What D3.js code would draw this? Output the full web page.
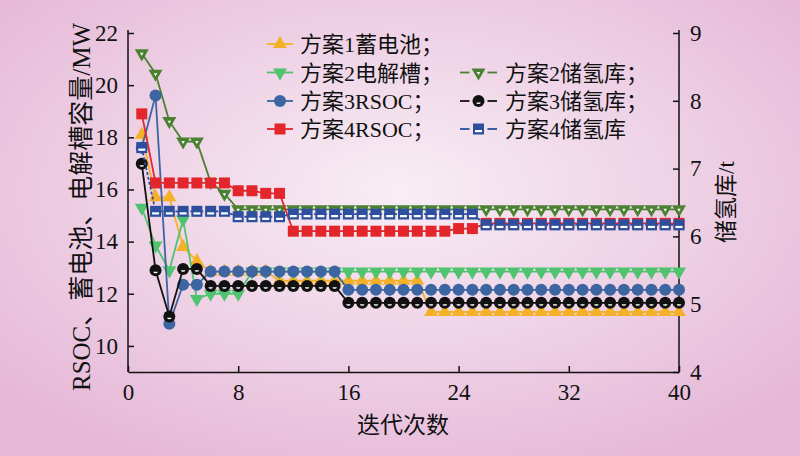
<!DOCTYPE html>
<html>
<head>
<meta charset="utf-8">
<script src="https://cdn.jsdelivr.net/npm/d3@7"></script>
<style>
body { margin: 0; }
svg { display: block; }
</style>
</head>
<body>
<div id="chart"></div>
<script>
var iterations = [1, 2, 3, 4, 5, 6, 7, 8, 9, 10, 11, 12, 13, 14, 15, 16, 17, 18, 19, 20,
    21, 22, 23, 24, 25, 26, 27, 28, 29, 30, 31, 32, 33, 34, 35, 36, 37, 38, 39, 40];

// left axis (MW)
var scheme1Battery = [18.1, 15.7, 15.7, 13.8, 13.25, 12.85, 12.85, 12.85, 12.85, 12.85,
    12.5, 12.5, 12.5, 12.5, 12.5, 12.5, 12.5, 12.5, 12.5, 12.5,
    12.5, 11.3, 11.3, 11.3, 11.3, 11.3, 11.3, 11.3, 11.3, 11.3,
    11.3, 11.3, 11.3, 11.3, 11.3, 11.3, 11.3, 11.3, 11.3, 11.3];
var scheme2Electrolyzer = [15.3, 13.85, 12.9, 14.85, 11.8, 12.0, 12.0, 12.0, 12.85, 12.85,
    12.85, 12.85, 12.85, 12.85, 12.85, 12.85, 12.85, 12.85, 12.85, 12.85,
    12.85, 12.85, 12.85, 12.85, 12.85, 12.85, 12.85, 12.85, 12.85, 12.85,
    12.85, 12.85, 12.85, 12.85, 12.85, 12.85, 12.85, 12.85, 12.85, 12.85];
var scheme3Rsoc = [17.6, 19.6, 10.85, 12.35, 12.35, 12.85, 12.85, 12.85, 12.85, 12.85,
    12.85, 12.85, 12.85, 12.85, 12.85, 12.15, 12.15, 12.15, 12.15, 12.15,
    12.15, 12.15, 12.15, 12.15, 12.15, 12.15, 12.15, 12.15, 12.15, 12.15,
    12.15, 12.15, 12.15, 12.15, 12.15, 12.15, 12.15, 12.15, 12.15, 12.15];
var scheme4Rsoc = [18.9, 16.25, 16.25, 16.25, 16.25, 16.25, 16.25, 15.95, 15.95, 15.85,
    15.85, 14.4, 14.4, 14.4, 14.4, 14.4, 14.4, 14.4, 14.4, 14.4,
    14.4, 14.4, 14.4, 14.5, 14.5, 14.7, 14.7, 14.7, 14.7, 14.7,
    14.7, 14.7, 14.7, 14.7, 14.7, 14.7, 14.7, 14.7, 14.7, 14.7];

// right axis (t)
var scheme2Storage = [8.7, 8.4, 7.7, 7.4, 7.4, 6.8, 6.63, 6.4, 6.4, 6.4,
    6.4, 6.4, 6.4, 6.4, 6.4, 6.4, 6.4, 6.4, 6.4, 6.4,
    6.4, 6.4, 6.4, 6.4, 6.4, 6.4, 6.4, 6.4, 6.4, 6.4,
    6.4, 6.4, 6.4, 6.4, 6.4, 6.4, 6.4, 6.4, 6.4, 6.4];
var scheme3Storage = [7.07, 5.5, 4.82, 5.52, 5.52, 5.27, 5.27, 5.27, 5.27, 5.27,
    5.27, 5.27, 5.27, 5.27, 5.27, 5.02, 5.02, 5.02, 5.02, 5.02,
    5.02, 5.02, 5.02, 5.02, 5.02, 5.02, 5.02, 5.02, 5.02, 5.02,
    5.02, 5.02, 5.02, 5.02, 5.02, 5.02, 5.02, 5.02, 5.02, 5.02];
var scheme4Storage = [7.31, 6.37, 6.37, 6.37, 6.37, 6.37, 6.37, 6.29, 6.29, 6.29,
    6.29, 6.33, 6.33, 6.33, 6.33, 6.33, 6.33, 6.33, 6.33, 6.33,
    6.33, 6.33, 6.33, 6.33, 6.33, 6.17, 6.17, 6.17, 6.17, 6.17,
    6.17, 6.17, 6.17, 6.17, 6.17, 6.17, 6.17, 6.17, 6.17, 6.17];

var xTicks = [0, 8, 16, 24, 32, 40];
var leftTicks = [10, 12, 14, 16, 18, 20, 22];
var rightTicks = [4, 5, 6, 7, 8, 9];

var width = 800;
var height = 456;
var plot = { left: 128, right: 679, top: 33, bottom: 372 };
var fontStack = "'Liberation Serif', 'Times New Roman', 'Noto Sans CJK SC', serif";

var series = [
    { name: "方案1蓄电池；", values: scheme1Battery, axis: "left", color: "#f4b128", marker: "triUp", dash: null, col: 0, row: 0 },
    { name: "方案2电解槽；", values: scheme2Electrolyzer, axis: "left", color: "#4fc36e", marker: "triDown", dash: null, col: 0, row: 1 },
    { name: "方案2储氢库；", values: scheme2Storage, axis: "right", color: "#4a8131", marker: "triDownHollow", dash: null, col: 1, row: 1 },
    { name: "方案3RSOC；", values: scheme3Rsoc, axis: "left", color: "#3c65a1", marker: "circle", dash: null, col: 0, row: 2 },
    { name: "方案3储氢库；", values: scheme3Storage, axis: "right", color: "#111111", marker: "circleHalf", dash: null, col: 1, row: 2 },
    { name: "方案4RSOC；", values: scheme4Rsoc, axis: "left", color: "#e2262b", marker: "square", dash: null, col: 0, row: 3 },
    { name: "方案4储氢库", values: scheme4Storage, axis: "right", color: "#2d4f9e", marker: "squareHalf", dash: "3,2", col: 1, row: 3 }
];

var svg = d3.select("#chart")
    .append("svg")
    .attr("width", width)
    .attr("height", height);

// pink background
var grad = svg.append("defs").append("radialGradient")
    .attr("id", "bg")
    .attr("cx", "50%").attr("cy", "42%").attr("r", "65%");
grad.append("stop").attr("offset", "0%").attr("stop-color", "#f8eef5");
grad.append("stop").attr("offset", "100%").attr("stop-color", "#e6b9d8");
svg.append("rect").attr("width", width).attr("height", height).attr("fill", "url(#bg)");

var x = d3.scaleLinear().domain([0, 40]).range([plot.left, plot.right]);
var yLeft = d3.scaleLinear().domain([9, 22]).range([plot.bottom, plot.top]);
var yRight = d3.scaleLinear().domain([4, 9]).range([plot.bottom, plot.top]);

// axes
var xAxis = svg.append("g")
    .attr("transform", `translate(0,${plot.bottom})`)
    .call(d3.axisBottom(x).tickValues(xTicks).tickFormat(d3.format("d"))
        .tickSizeInner(-6).tickSizeOuter(0).tickPadding(12));
var leftAxis = svg.append("g")
    .attr("transform", `translate(${plot.left},0)`)
    .call(d3.axisLeft(yLeft).tickValues(leftTicks).tickFormat(d3.format("d"))
        .tickSizeInner(-6).tickSizeOuter(0).tickPadding(10));
var rightAxis = svg.append("g")
    .attr("transform", `translate(${plot.right},0)`)
    .call(d3.axisRight(yRight).tickValues(rightTicks).tickFormat(d3.format("d"))
        .tickSizeInner(-6).tickSizeOuter(0).tickPadding(11));

[xAxis, leftAxis, rightAxis].forEach(function (ax) {
    ax.selectAll("path, line").attr("stroke", "#111").attr("stroke-width", 1.5);
    ax.selectAll("text").attr("font-family", fontStack).attr("font-size", 23).attr("fill", "#111");
});
leftAxis.select(".domain").attr("d", `M0,${plot.top - 3}V${plot.bottom}`);
rightAxis.select(".domain").attr("d", `M0,${plot.top - 3}V${plot.bottom}`);

// axis titles
svg.append("text")
    .attr("x", 403).attr("y", 433)
    .attr("text-anchor", "middle")
    .attr("font-family", fontStack).attr("font-size", 23).attr("fill", "#111")
    .text("迭代次数");
svg.append("text")
    .attr("transform", "translate(90,207) rotate(-90)")
    .attr("text-anchor", "middle")
    .attr("font-family", fontStack).attr("font-size", 25).attr("fill", "#111")
    .text("RSOC、蓄电池、电解槽容量/MW");
svg.append("text")
    .attr("transform", "translate(734,202) rotate(-90)")
    .attr("text-anchor", "middle")
    .attr("font-family", fontStack).attr("font-size", 23).attr("fill", "#111")
    .text("储氢库/t");

function drawMarker(g, type, color) {
    if (type === "triUp") {
        g.append("path").attr("d", d3.symbol(d3.symbolTriangle, 85)()).attr("fill", color);
    } else if (type === "triDown") {
        g.append("path").attr("d", d3.symbol(d3.symbolTriangle, 85)())
            .attr("transform", "rotate(180)").attr("fill", color);
    } else if (type === "triDownHollow") {
        g.append("path").attr("d", d3.symbol(d3.symbolTriangle, 85)())
            .attr("transform", "rotate(180)").attr("fill", color);
        g.append("path").attr("d", d3.symbol(d3.symbolTriangle, 5)())
            .attr("transform", "translate(0,0.5) rotate(180)").attr("fill", "#fff");
    } else if (type === "circle") {
        g.append("circle").attr("r", 6).attr("fill", color);
    } else if (type === "circleHalf") {
        g.append("circle").attr("r", 6).attr("fill", color);
        g.append("path").attr("d", "M-2.2,1.4 A2.2,1.5 0 0,0 2.2,1.4 Z").attr("fill", "#fff");
    } else if (type === "square") {
        g.append("rect").attr("x", -5.5).attr("y", -5.5).attr("width", 11).attr("height", 11).attr("fill", color);
    } else if (type === "squareHalf") {
        g.append("rect").attr("x", -5.5).attr("y", -5.5).attr("width", 11).attr("height", 11).attr("fill", color);
        g.append("rect").attr("x", -3.5).attr("y", 1).attr("width", 7).attr("height", 2.2).attr("fill", "#fff");
    }
}

// series
series.forEach(function (s) {
    var y = s.axis === "left" ? yLeft : yRight;
    var pts = iterations.map(function (it, i) { return [it, s.values[i]]; });
    var line = d3.line().x(d => x(d[0])).y(d => y(d[1]));
    var g = svg.append("g");
    g.append("path")
        .attr("d", line(pts))
        .attr("fill", "none")
        .attr("stroke", s.color)
        .attr("stroke-width", 1.8)
        .attr("stroke-dasharray", s.dash);
    g.selectAll("g.pt")
        .data(pts)
        .enter()
        .append("g")
        .attr("class", "pt")
        .attr("transform", d => `translate(${x(d[0])},${y(d[1])})`)
        .each(function () { drawMarker(d3.select(this), s.marker, s.color); });
});

// legend
var legendCols = [{ x0: 267, x1: 293, tx: 300, gap: 0 }, { x0: 460, x1: 497, tx: 505, gap: 9 }];
var legendRows = [44, 72.5, 101, 129];
series.forEach(function (s) {
    var c = legendCols[s.col];
    var ry = legendRows[s.row];
    var cx = (c.x0 + c.x1) / 2;
    var g = svg.append("g");
    [[c.x0, cx - c.gap], [cx + c.gap, c.x1]].forEach(function (seg) {
        g.append("line")
            .attr("x1", seg[0]).attr("x2", seg[1]).attr("y1", ry).attr("y2", ry)
            .attr("stroke", s.color).attr("stroke-width", 1.8);
    });
    var mg = g.append("g").attr("transform", `translate(${cx},${ry})`);
    drawMarker(mg, s.marker, s.color);
    g.append("text")
        .attr("x", c.tx).attr("y", ry + 8)
        .attr("font-family", fontStack).attr("font-size", 22).attr("fill", "#111")
        .text(s.name);
});
</script>
</body>
</html>
